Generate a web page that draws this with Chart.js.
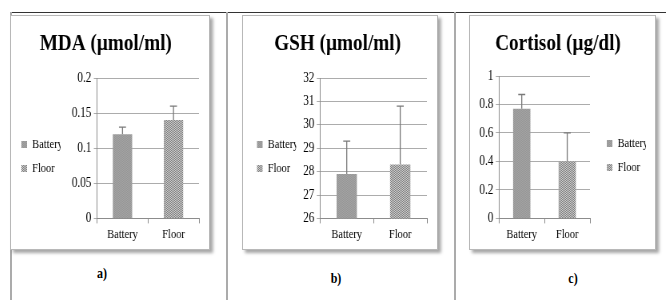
<!DOCTYPE html>
<html><head><meta charset="utf-8">
<script src="https://cdn.jsdelivr.net/npm/chart.js@4.4.1/dist/chart.umd.min.js"></script>
<style>
html,body{margin:0;padding:0;background:#fff;width:666px;height:300px;overflow:hidden;position:relative;font-family:"Liberation Serif","Times New Roman",serif;}
.hline{position:absolute;left:10px;top:12px;width:656px;height:1px;background:#333;}
.vline{position:absolute;top:12px;width:2px;height:288px;background:#ababab;}
.box{position:absolute;background:#fff;border:1px solid #b8b8b8;box-shadow:3px 3px 3px rgba(0,0,0,0.35);box-sizing:border-box;}
.box canvas{position:absolute;left:0;top:0;transform:scaleX(0.8);transform-origin:0 0;}
.lab{position:absolute;width:40px;height:18px;line-height:18px;text-align:center;font-weight:bold;font-size:15px;color:#000;transform:scaleX(0.8);transform-origin:50% 50%;}
</style>
</head><body>
<div class="hline"></div>
<div class="vline" style="left:10px"></div>
<div class="vline" style="left:226px"></div>
<div class="vline" style="left:454px"></div>
<div class="box" style="left:10px;top:15px;width:200px;height:235px"><canvas id="ca" width="247" height="233"></canvas></div>
<div class="box" style="left:242px;top:15px;width:196px;height:235px"><canvas id="cb" width="242" height="233"></canvas></div>
<div class="box" style="left:469px;top:15px;width:187px;height:235px"><canvas id="cc" width="231" height="233"></canvas></div>
<div class="lab" style="left:82px;top:264px">a)</div>
<div class="lab" style="left:316px;top:269px">b)</div>
<div class="lab" style="left:553px;top:269px">c)</div>
<script>
const categories = ['Battery', 'Floor'];
const mdaValues = [0.12, 0.14];
const mdaErrors = [0.01, 0.02];
const gshValues = [27.9, 28.3];
const gshErrors = [1.4, 2.5];
const cortisolValues = [0.77, 0.40];
const cortisolErrors = [0.10, 0.20];
const mdaTicks = ['0', '0.05', '0.1', '0.15', '0.2'];
const gshTicks = ['26', '27', '28', '29', '30', '31', '32'];
const cortisolTicks = ['0', '0.2', '0.4', '0.6', '0.8', '1'];
const titles = ['MDA (\u00b5mol/ml)', 'GSH (\u00b5mol/ml)', 'Cortisol (\u00b5g/dl)'];

Chart.defaults.font.family = "'Liberation Serif', 'Times New Roman', Times, serif";
Chart.defaults.color = '#000';

function makePattern(c1, c2) {
  const t = document.createElement('canvas');
  t.width = 2; t.height = 2;
  const g = t.getContext('2d');
  g.fillStyle = c1; g.fillRect(0, 0, 2, 2);
  g.fillStyle = c2; g.fillRect(0, 0, 1, 1); g.fillRect(1, 1, 1, 1);
  return g.createPattern(t, 'repeat');
}
const patterns = [makePattern('#a4a4a4', '#969696'), makePattern('#d2d2d2', '#7a7a7a')];

const errorBarPlugin = {
  id: 'errorBars',
  afterDatasetsDraw(chart, args, opts) {
    const ctx = chart.ctx, y = chart.scales.y;
    chart.data.datasets.forEach((ds, di) => {
      const meta = chart.getDatasetMeta(di);
      ds.data.forEach((v, i) => {
        if (v == null) return;
        const bar = meta.data[i];
        const top = y.getPixelForValue(v + opts.errors[i]);
        ctx.save();
        ctx.strokeStyle = opts.color;
        ctx.lineWidth = 1.3;
        ctx.beginPath();
        ctx.moveTo(bar.x, bar.y); ctx.lineTo(bar.x, top);
        ctx.moveTo(bar.x - opts.cap, top); ctx.lineTo(bar.x + opts.cap, top);
        ctx.stroke();
        ctx.restore();
      });
    });
  }
};
const legendShiftPlugin = {
  id: 'legendShift',
  afterLayout(chart, args, opts) {
    const l = chart.legend;
    if (!l) return;
    l.left += opts.dx || 0; l.right += opts.dx || 0;
    l.top += opts.dy || 0; l.bottom += opts.dy || 0;
  }
};

function makeChart(id, title, values, errors, ticks, cfg) {
  const tickVals = ticks.map(Number);
  new Chart(document.getElementById(id), {
    type: 'bar',
    data: {
      labels: categories,
      datasets: categories.map((c, i) => ({
        label: c,
        data: values.map((v, j) => (j === i ? v : null)),
        backgroundColor: patterns[i],
        borderWidth: 0,
        grouped: false,
        barPercentage: 0.38,
        categoryPercentage: 1
      }))
    },
    options: {
      responsive: false,
      animation: false,
      devicePixelRatio: 1,
      events: [],
      layout: { padding: { left: cfg.padLeft, right: cfg.padRight, top: 0, bottom: 4 } },
      plugins: {
        title: { display: true, text: title, color: '#000', font: { size: 24, weight: 'bold' }, padding: { top: 13.6, bottom: cfg.titleBottom } },
        legend: { position: cfg.legendPos, maxWidth: 60, labels: { boxWidth: 7, boxHeight: 7, padding: 11, color: '#000', font: { size: 13 } } },
        tooltip: { enabled: false },
        legendShift: { dx: cfg.dx, dy: cfg.dy },
        errorBars: { errors: errors, color: '#7a7a7a', cap: 4.4 }
      },
      scales: {
        x: {
          grid: { offset: true, drawOnChartArea: false, tickLength: 5, color: '#8c8c8c' },
          border: { color: '#8c8c8c' },
          ticks: { color: '#000', font: { size: 13 }, padding: 3 }
        },
        y: {
          min: tickVals[0], max: tickVals[tickVals.length - 1],
          afterBuildTicks: s => { s.ticks = tickVals.map(v => ({ value: v })); },
          afterFit: s => { s.width = cfg.yW; },
          grid: { color: '#acacac', tickLength: 4 },
          border: { color: '#8c8c8c' },
          ticks: { color: '#000', font: { size: 14 }, padding: 3, callback: (v, i) => ticks[i] }
        }
      }
    },
    plugins: [errorBarPlugin, legendShiftPlugin]
  });
}

makeChart('ca', titles[0], mdaValues, mdaErrors, mdaTicks,
  { padLeft: 2, padRight: 12, yW: 45.5, legendPos: 'left', titleBottom: 19.6, dx: 0, dy: 26 });
makeChart('cb', titles[1], gshValues, gshErrors, gshTicks,
  { padLeft: 6.5, padRight: 12, yW: 29.75, legendPos: 'left', titleBottom: 19.6, dx: 0, dy: 26 });
makeChart('cc', titles[2], cortisolValues, cortisolErrors, cortisolTicks,
  { padLeft: 10, padRight: 21, yW: 26.25, legendPos: 'right', titleBottom: 17.6, dx: 10, dy: 25 });
</script>
</body></html>
